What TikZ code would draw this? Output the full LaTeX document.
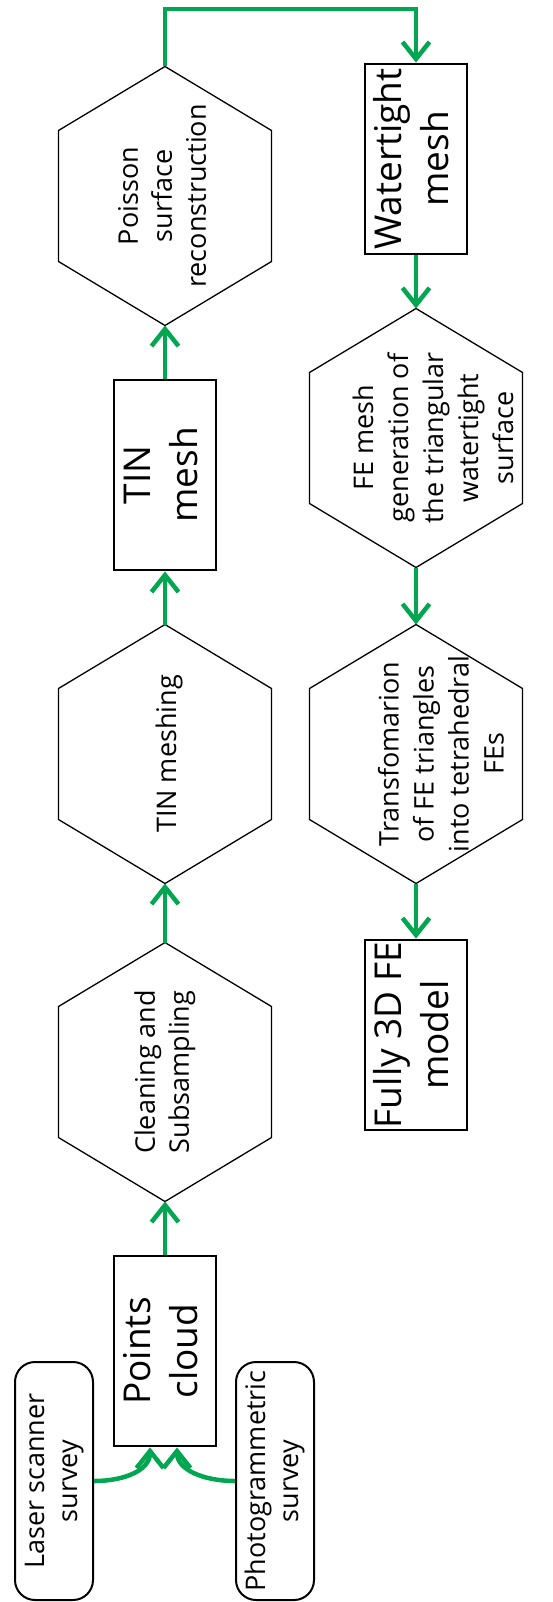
\documentclass[tikz,border=0pt]{standalone}
\usepackage{fontspec}
\setmainfont{Open Sans}
\usepackage{graphicx}
\usetikzlibrary{arrows.meta}
\definecolor{flowgreen}{RGB}{0,166,80}
\newcommand{\vtext}[1]{\rotatebox{90}{\begin{tabular}{@{}c@{}}#1\end{tabular}}}
\newcommand{\hexoutline}[1]{\draw[hexline] (#1.north) -- ([yshift=-64pt]#1.north east) -- ([yshift=64pt]#1.south east) -- (#1.south) -- ([yshift=64pt]#1.south west) -- ([yshift=-64pt]#1.north west) -- cycle;}
\begin{document}
\begin{tikzpicture}[x=1pt,y=-1pt,
  hexa/.style={minimum width=213pt,minimum height=259pt,inner sep=0pt,outer sep=0pt,font=\fontsize{27}{34}\selectfont},
  hextext/.style={inner sep=0pt,font=\fontsize{27}{35}\selectfont},
  hexline/.style={draw=black,line width=1.3pt,line join=miter},
  bigbox/.style={draw=black,line width=2.8pt,minimum width=102pt,minimum height=190pt,inner sep=0pt,font=\fontsize{37}{47}\selectfont},
  srcbox/.style={draw=black,line width=2pt,rounded corners=20pt,minimum width=78pt,minimum height=238pt,inner sep=0pt,font=\fontsize{27}{33}\selectfont},
  flow/.style={draw=flowgreen,line width=4.5pt,-{Straight Barb[length=17pt,width=27pt]}},
]
\fill[white] (0,0) rectangle (553,1602);
\useasboundingbox (0,0) rectangle (553,1602);

% hexagons (process steps)
\node[hexa] (clean)   at (165,1072) {\vtext{Cleaning and\\Subsampling}};
\node[hexa] (tinm)    at (165,754)  {};
\node[hextext] (tinmtxt) at ([xshift=4pt]tinm.center) {\vtext{TIN meshing}};
\node[hexa] (poisson) at (165,196)  {\vtext{Poisson\\surface\\reconstruction}};
\node[hexa] (femesh)  at (416,438)  {};
\node[hextext] (femeshtxt) at ([xshift=20pt]femesh.center) {\vtext{FE mesh\\generation of\\the triangular\\watertight\\surface}};
\node[hexa] (trans)   at (416,754)  {};
\node[hextext] (transtxt) at ([xshift=28pt]trans.center) {\vtext{Transfomarion\\of FE triangles\\into tetrahedral\\FEs}};
\hexoutline{clean}
\hexoutline{tinm}
\hexoutline{poisson}
\hexoutline{femesh}
\hexoutline{trans}

% rectangles (products)
\node[bigbox] (points)  at (165,1351) {\vtext{Points\\cloud}};
\node[bigbox] (tinmesh) at (165,475)  {\vtext{TIN\\mesh}};
\node[bigbox] (water)   at (416,159)  {\vtext{Watertight\\mesh}};
\node[bigbox] (fully)   at (416,1035) {\vtext{Fully 3D FE\\model}};

% sources
\node[srcbox] (laser) at (54,1481)  {\vtext{Laser scanner\\survey}};
\node[srcbox] (photo) at (275,1481) {\vtext{Photogrammetric\\survey}};

% connectors
\draw[flow] (laser.east) .. controls +(32,0) and +(0,22) .. ([xshift=-15pt]points.south);
\draw[flow] (photo.west) .. controls +(-32,0) and +(0,22) .. ([xshift=12pt]points.south);
\draw[flow] (points.north) -- (clean.south);
\draw[flow] (clean.north) -- (tinm.south);
\draw[flow] (tinm.north) -- (tinmesh.south);
\draw[flow] (tinmesh.north) -- (poisson.south);
\coordinate (bend) at (165,9);
\draw[flow] (poisson.north) -- (bend) -| (water.north);
\draw[flow] (water.south) -- (femesh.north);
\draw[flow] (femesh.south) -- (trans.north);
\draw[flow] (trans.south) -- (fully.north);
\end{tikzpicture}
\end{document}
